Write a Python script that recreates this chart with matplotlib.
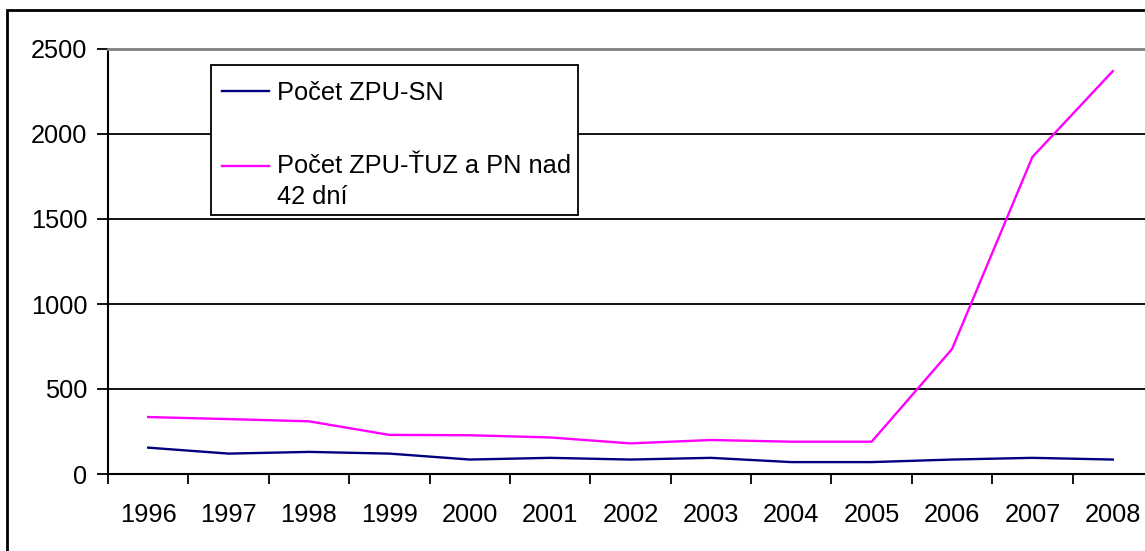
import matplotlib
matplotlib.use("Agg")
import matplotlib.pyplot as plt
from matplotlib.patches import Rectangle
import numpy as np

years = ["1996", "1997", "1998", "1999", "2000", "2001", "2002",
         "2003", "2004", "2005", "2006", "2007", "2008"]
zpu_sn = [155, 120, 130, 120, 85, 95, 85, 95, 70, 70, 85, 95, 85]
zpu_tuz = [335, 323, 310, 230, 228, 215, 180, 200, 190, 190, 735, 1865, 2370]
labels = ["Počet ZPU-SN", "Počet ZPU-ŤUZ a PN nad\n42 dní"]

plt.rcParams["font.family"] = ["Liberation Sans", "DejaVu Sans"]
FS = 18.3

W, H = 1145, 551
fig = plt.figure(figsize=(W / 100, H / 100), dpi=100)
# plot area runs a little past the right edge of the picture
ax = fig.add_axes([108 / W, (H - 474) / H, (1153 - 108) / W, 425 / H])

x = np.arange(len(years))
ax.plot(x, zpu_sn, color="#000080", lw=1.7, label=labels[0])
ax.plot(x, zpu_tuz, color="#FF00FF", lw=1.7, label=labels[1])

ax.set_xlim(-0.5, len(years) - 0.5)
ax.set_ylim(0, 2500)
ax.set_yticks(np.arange(0, 2501, 500))
ax.yaxis.grid(True, color="black", lw=1.3)
ax.set_axisbelow(True)
ax.tick_params(axis="y", labelsize=FS, length=8, width=1.3, pad=7)

ax.set_xticks(x)
ax.set_xticklabels(years)
ax.set_xticks(np.arange(-0.5, len(years), 1), minor=True)
ax.tick_params(axis="x", which="major", length=0, labelsize=FS, pad=21)
ax.tick_params(axis="x", which="minor", length=7, width=1.3)

for s in ["left", "bottom"]:
    ax.spines[s].set_color("black")
    ax.spines[s].set_linewidth(1.5)
ax.spines["top"].set_color("#808080")
ax.spines["top"].set_linewidth(2)
ax.spines["right"].set_visible(False)

# legend box drawn separately, entries placed inside it
ax.add_patch(Rectangle((211 / W, (H - 215) / H), 367 / W, 150 / H,
                       transform=fig.transFigure, facecolor="white",
                       edgecolor="black", lw=1.3, zorder=4, clip_on=False))
leg = ax.legend(loc="upper left", bbox_to_anchor=(222 / W, (H - 81) / H),
                bbox_transform=fig.transFigure, fontsize=FS, frameon=False,
                handlelength=1.85, handletextpad=0.3, labelspacing=1.92,
                borderpad=0, borderaxespad=0)
leg.set_zorder(6)
for t in leg.get_texts():
    t.set_linespacing(1.36)
# put the second handle level with the first line of its label
h2 = leg.legend_handles[1]
h2.set_ydata(np.asarray(h2.get_ydata()) + 11.5)

# outer chart border
fig.patches.append(Rectangle((7 / W, -0.1), 1.2, (H - 10) / H + 0.1,
                             transform=fig.transFigure, fill=False,
                             edgecolor="black", lw=2, clip_on=False))

fig.savefig("out.png", dpi=100)
